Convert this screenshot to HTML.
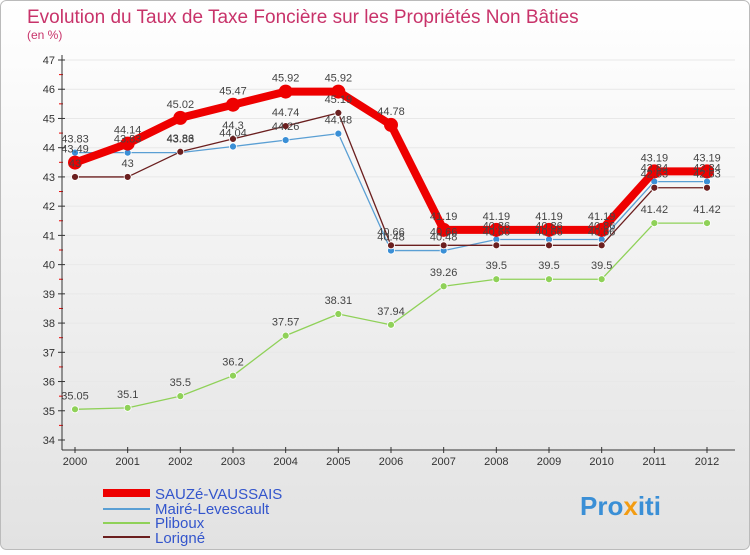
<!DOCTYPE html>
<html><head><meta charset="utf-8"><style>
body{margin:0;width:750px;height:550px;overflow:hidden;font-family:"Liberation Sans",sans-serif;}
</style></head><body>
<svg id="c" width="750" height="550" xmlns="http://www.w3.org/2000/svg">
<defs><linearGradient id="bg" x1="0" y1="0" x2="0" y2="1"><stop offset="0" stop-color="#ffffff"/><stop offset="1" stop-color="#e2e2e2"/></linearGradient></defs>
<rect x="0.5" y="0.5" width="749" height="549" rx="6" fill="url(#bg)" stroke="#bbb"/>
<text x="27" y="23" font-size="19" fill="#c8336a">Evolution du Taux de Taxe Foncière sur les Propriétés Non Bâties</text>
<text x="27" y="39" font-size="12" fill="#c8336a">(en %)</text>
<g id="axes"></g><g id="series"></g><g id="labels"></g>
<g>
<line x1="103" y1="493" x2="150" y2="493" stroke="#e00" stroke-width="8"/><text x="155" y="499" font-size="15" fill="#3355cc">SAUZé-VAUSSAIS</text>
<line x1="103" y1="509" x2="150" y2="509" stroke="#5a9fd4" stroke-width="2"/><text x="155" y="514" font-size="15" fill="#3355cc">Mairé-Levescault</text>
<line x1="103" y1="523" x2="150" y2="523" stroke="#8fd158" stroke-width="2"/><text x="155" y="528" font-size="15" fill="#3355cc">Pliboux</text>
<line x1="103" y1="537" x2="150" y2="537" stroke="#6b1f1f" stroke-width="2"/><text x="155" y="543" font-size="15" fill="#3355cc">Lorigné</text>
</g>
<text x="580" y="515" font-size="26" font-weight="bold" fill="#3a8fd6">Pro<tspan fill="#f39c12">x</tspan>iti</text>
</svg>
<script>
const years=[2000,2001,2002,2003,2004,2005,2006,2007,2008,2009,2010,2011,2012];
const sauze=[43.49,44.14,45.02,45.47,45.92,45.92,44.78,41.19,41.19,41.19,41.19,43.19,43.19];
const maire=[43.83,43.83,43.83,44.04,44.26,44.48,40.48,40.48,40.86,40.86,40.86,42.84,42.84];
const pliboux=[35.05,35.1,35.5,36.2,37.57,38.31,37.94,39.26,39.5,39.5,39.5,41.42,41.42];
const lorigne=[43,43,43.86,44.3,44.74,45.19,40.66,40.66,40.66,40.66,40.66,42.63,42.63];
const yTicks=[34,35,36,37,38,39,40,41,42,43,44,45,46,47];
const NS="http://www.w3.org/2000/svg";
const xs=i=>75+i*(707-75)/(years.length-1);
const ys=v=>440-(v-34)*(380/13);
function mk(t,a,p){const e=document.createElementNS(NS,t);for(const k in a)e.setAttribute(k,a[k]);p.appendChild(e);return e;}
const ax=document.getElementById('axes');
for(const t of yTicks){
  const g=mk('g',{},ax);
  
  
  mk('line',{x1:60,x2:735,y1:ys(t),y2:ys(t),stroke:'#e8e8e8'},g);
  mk('line',{x1:58,x2:65,y1:ys(t),y2:ys(t),stroke:'#333'},g);
  if(t<47)mk('line',{x1:59,x2:63,y1:ys(t+0.5),y2:ys(t+0.5),stroke:'#e00'},g);
  const tx=mk('text',{x:55,y:ys(t)+4,'font-size':11,'text-anchor':'end',fill:'#333'},g);tx.textContent=t;
}
mk('line',{x1:62,x2:62,y1:55,y2:450,stroke:'#333'},ax);
mk('line',{x1:62,x2:735,y1:450,y2:450,stroke:'#333'},ax);
years.forEach((y,i)=>{
  const g=mk('g',{},ax);
  
  
  mk('line',{x1:xs(i),x2:xs(i),y1:447,y2:453,stroke:'#333'},g);
  const tx=mk('text',{x:xs(i),y:465,'font-size':11,'text-anchor':'middle',fill:'#333'},g);tx.textContent=y;
});
const sg=document.getElementById('series'),lg=document.getElementById('labels');
function draw(name,data,color,w,r,pcol){
  const g=mk('g',{},sg);
  
  
  mk('polyline',{points:data.map((v,i)=>xs(i)+','+ys(v)).join(' '),fill:'none',stroke:color,'stroke-width':w,'stroke-linejoin':'round'},g);
  data.forEach((v,i)=>{
    const c=mk('circle',{cx:xs(i),cy:ys(v),r:r,fill:pcol,stroke:'#fff','stroke-width':r>5?0:0.8},g);
    
    
    const t=mk('text',{x:xs(i),y:ys(v)-10,'font-size':11,'text-anchor':'middle',fill:'#444'},lg);
    t.textContent=v;
  });
}
draw('pliboux',pliboux,'#8fd158',1.3,3.5,'#8fd158');
draw('maire',maire,'#5a9fd4',1.3,3.5,'#3a8fd6');
draw('lorigne',lorigne,'#6b1f1f',1.3,3.5,'#6b1f1f');
draw('sauze',sauze,'#ee0000',8,7,'#ee0000');
</script>
</body></html>
